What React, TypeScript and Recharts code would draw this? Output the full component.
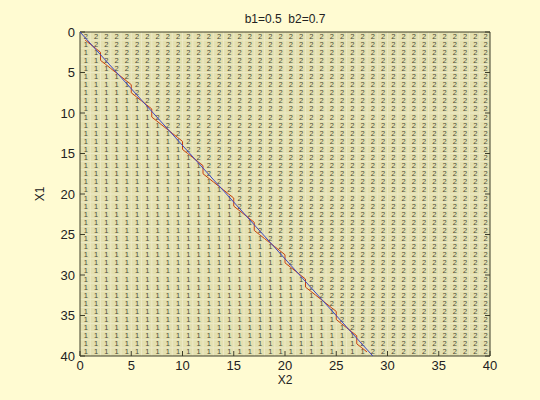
import React from 'react';
import { ScatterChart, Scatter, XAxis, YAxis, CartesianGrid, ReferenceLine } from 'recharts';

const titleText = 'b1=0.5\u00A0\u00A0b2=0.7';
const xAxisLabel = 'X2';
const yAxisLabel = 'X1';
const axisTicks = [0, 5, 10, 15, 20, 25, 30, 35, 40];
const gridSize = 40;
// number of "2" cells counted from the top (X1 = 0) in each X2 column
const twosPerColumn = [
  1, 2, 4, 5, 6, 8, 9, 11, 12, 13,
  15, 16, 18, 19, 20, 22, 23, 25, 26, 27,
  29, 30, 32, 33, 34, 36, 37, 39, 40, 40,
  40, 40, 40, 40, 40, 40, 40, 40, 40, 40,
];
// theoretical boundary X1 = (b2/b1) * X2
const blueLine = [
  { x: 0, y: 0 },
  { x: 28.57, y: 40 },
];

const cells: { x: number; y: number; v: string }[] = [];
for (let j = 0; j < gridSize; j++) {
  for (let i = 0; i < gridSize; i++) {
    cells.push({ x: j + 0.5, y: i + 0.5, v: i < twosPerColumn[j] ? '2' : '1' });
  }
}

const redContour: { x: number; y: number }[] = [];
for (let j = 0; j < gridSize; j++) {
  const k = twosPerColumn[j];
  if (k <= 0 || k >= gridSize) break;
  redContour.push({ x: j + 0.5, y: k });
  const next = j + 1 < gridSize ? twosPerColumn[j + 1] : k;
  for (let i = k; i < next; i++) redContour.push({ x: j + 1, y: i + 0.5 });
}

const gridLines = Array.from({ length: gridSize - 1 }, (_, i) => i + 1);

const FONT = '"Liberation Sans", Arial, sans-serif';
const AXIS_COLOR = '#3c3c28';

const CellText = (props: any) => {
  const { cx, cy, payload } = props;
  if (cx == null || cy == null) return null;
  return (
    <text
      x={cx + 0.6}
      y={cy}
      textAnchor="middle"
      dominantBaseline="central"
      fontSize={7.5}
      fontFamily={FONT}
      fill="#4a4a36"
    >
      {payload.v}
    </text>
  );
};

const NoDot = () => null;

export default function App() {
  const tickStyle = { fill: '#222', fontSize: 13, fontFamily: FONT };
  return (
    <div style={{ position: 'fixed', left: 0, top: 0, width: 540, height: 400, background: '#FFFBD2' }}>
      <ScatterChart width={540} height={400} margin={{ top: 6, right: 49, bottom: 24, left: 0 }}>
        <CartesianGrid fill="#E4E0B0" horizontal={false} vertical={false} />
        <XAxis
          type="number"
          dataKey="x"
          domain={[0, 40]}
          ticks={axisTicks}
          allowDataOverflow
          height={20}
          tickSize={-5}
          tickMargin={10}
          tick={tickStyle}
          axisLine={{ stroke: AXIS_COLOR }}
          tickLine={{ stroke: AXIS_COLOR }}
          label={{ value: xAxisLabel, position: 'bottom', offset: -1, fill: '#222', fontSize: 12, fontFamily: FONT }}
        />
        <XAxis
          xAxisId="top"
          orientation="top"
          type="number"
          domain={[0, 40]}
          ticks={axisTicks}
          allowDataOverflow
          height={26}
          tickSize={-5}
          tickFormatter={() => ''}
          axisLine={{ stroke: AXIS_COLOR }}
          tickLine={{ stroke: AXIS_COLOR }}
          label={{ value: titleText, position: 'center', fill: '#222', fontSize: 12, fontFamily: FONT }}
        />
        <YAxis
          type="number"
          dataKey="y"
          domain={[0, 40]}
          ticks={axisTicks}
          reversed
          allowDataOverflow
          width={80}
          tickSize={-5}
          tickMargin={10}
          tick={tickStyle}
          axisLine={{ stroke: AXIS_COLOR }}
          tickLine={{ stroke: AXIS_COLOR }}
          label={{ value: yAxisLabel, position: 'center', angle: -90, fill: '#222', fontSize: 12, fontFamily: FONT }}
        />
        <YAxis
          yAxisId="right"
          orientation="right"
          type="number"
          domain={[0, 40]}
          ticks={axisTicks}
          reversed
          allowDataOverflow
          width={1}
          tickSize={-5}
          tickFormatter={() => ''}
          axisLine={{ stroke: AXIS_COLOR }}
          tickLine={{ stroke: AXIS_COLOR }}
        />
        {gridLines.map((g) => (
          <ReferenceLine key={'v' + g} x={g} stroke="#ECE9C6" strokeWidth={1} />
        ))}
        {gridLines.map((g) => (
          <ReferenceLine key={'h' + g} y={g} stroke="#ECE9C6" strokeWidth={1} />
        ))}
        <Scatter data={cells} shape={CellText} isAnimationActive={false} />
        <Scatter
          data={redContour}
          shape={NoDot}
          line={{ stroke: '#C8400C', strokeWidth: 1 }}
          lineType="joint"
          isAnimationActive={false}
        />
        <Scatter
          data={blueLine}
          shape={NoDot}
          line={{ stroke: '#3C44C4', strokeWidth: 1 }}
          lineType="joint"
          isAnimationActive={false}
        />
      </ScatterChart>
    </div>
  );
}
